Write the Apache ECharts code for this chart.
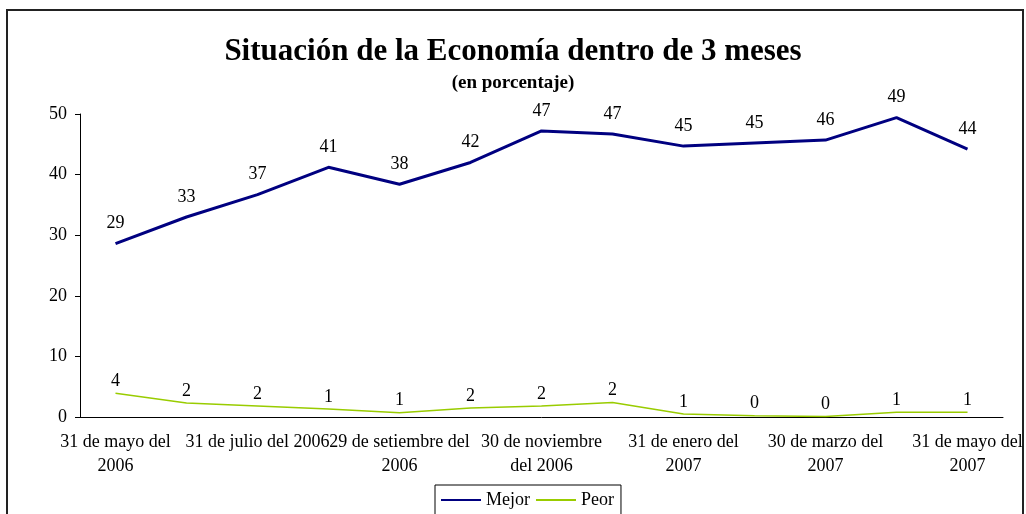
<!DOCTYPE html>
<html>
<head>
<meta charset="utf-8">
<script src="https://cdn.jsdelivr.net/npm/echarts@6/dist/echarts.min.js"></script>
<style>
  html, body { margin: 0; padding: 0; background: #fff; }
  #chart { width: 1026px; height: 514px; }
</style>
</head>
<body>
<div id="chart"></div>
<script>
// fechas de la encuesta (solo se rotula una de cada dos)
var categorias = [
    '31 de mayo del\n2006', '30 de junio del 2006', '31 de julio del 2006', '31 de agosto del 2006',
    '29 de setiembre del\n2006', '31 de octubre del 2006', '30 de noviembre\ndel 2006', '31 de diciembre del 2006',
    '31 de enero del\n2007', '28 de febrero del 2007', '30 de marzo del\n2007', '30 de abril del 2007',
    '31 de mayo del\n2007'
];
var mejor = [28.6, 33.0, 36.7, 41.2, 38.4, 42.0, 47.2, 46.7, 44.7, 45.2, 45.7, 49.4, 44.2];
var peor = [3.9, 2.3, 1.8, 1.3, 0.7, 1.5, 1.8, 2.4, 0.5, 0.2, 0.1, 0.8, 0.8];
var yTicks = { min: 0, max: 50, interval: 10 };

var serif = 'Liberation Serif';

function etiqueta(dist) {
    return {
        show: true,
        position: 'top',
        distance: dist,
        fontFamily: serif,
        fontSize: 18,
        color: '#000',
        formatter: function (p) { return Math.round(p.value); }
    };
}

var myChart = echarts.init(document.getElementById('chart'));
var option = {
    backgroundColor: '#fff',
    textStyle: {
        fontFamily: serif,
        color: '#000'
    },
    title: {
        text: 'Situación de la Economía dentro de 3 meses',
        subtext: '(en porcentaje)',
        left: 'center',
        top: 31,
        itemGap: 7,
        textStyle: {
            fontFamily: serif,
            fontWeight: 'bold',
            fontSize: 31,
            color: '#000'
        },
        subtextStyle: {
            fontFamily: serif,
            fontWeight: 'bold',
            fontSize: 19,
            color: '#000'
        }
    },
    legend: {
        data: ['Mejor', 'Peor'],
        left: 435,
        top: 485,
        padding: [6, 7, 12, 6],
        itemGap: 6,
        itemWidth: 40,
        itemHeight: 2,
        icon: 'rect',
        borderColor: '#000',
        borderWidth: 1,
        borderRadius: 0,
        textStyle: {
            fontFamily: serif,
            fontSize: 18,
            color: '#000'
        }
    },
    graphic: [
        {
            type: 'rect',
            shape: { x: 7, y: 10, width: 1016, height: 600 },
            style: { fill: 'none', stroke: '#222', lineWidth: 2 },
            silent: true
        }
    ],
    grid: {
        left: 80,
        right: 23,
        top: 114,
        bottom: 97
    },
    xAxis: [
        {
            type: 'category',
            data: categorias,
            boundaryGap: true,
            axisLine: { lineStyle: { color: '#000', width: 1 } },
            axisTick: { interval: 0, length: 5, lineStyle: { color: '#000' } },
            axisLabel: {
                interval: 1,
                margin: 13,
                fontFamily: serif,
                fontSize: 18,
                lineHeight: 24,
                color: '#000'
            }
        }
    ],
    yAxis: [
        {
            type: 'value',
            min: yTicks.min,
            max: yTicks.max,
            interval: yTicks.interval,
            splitLine: { show: false },
            axisLine: { show: true, lineStyle: { color: '#000', width: 1 } },
            axisTick: { show: true, length: 5, lineStyle: { color: '#000' } },
            axisLabel: {
                margin: 13,
                fontFamily: serif,
                fontSize: 18,
                color: '#000'
            }
        }
    ],
    series: [
        {
            name: 'Mejor',
            type: 'line',
            data: mejor,
            symbol: 'circle',
            symbolSize: 0.1,
            color: '#000080',
            lineStyle: { color: '#000080', width: 3 },
            label: etiqueta(11),
            z: 3
        },
        {
            name: 'Peor',
            type: 'line',
            data: peor,
            symbol: 'circle',
            symbolSize: 0.1,
            color: '#99CC00',
            lineStyle: { color: '#99CC00', width: 1.5 },
            label: etiqueta(3),
            z: 2
        }
    ]
};
myChart.setOption(option);
</script>
</body>
</html>
